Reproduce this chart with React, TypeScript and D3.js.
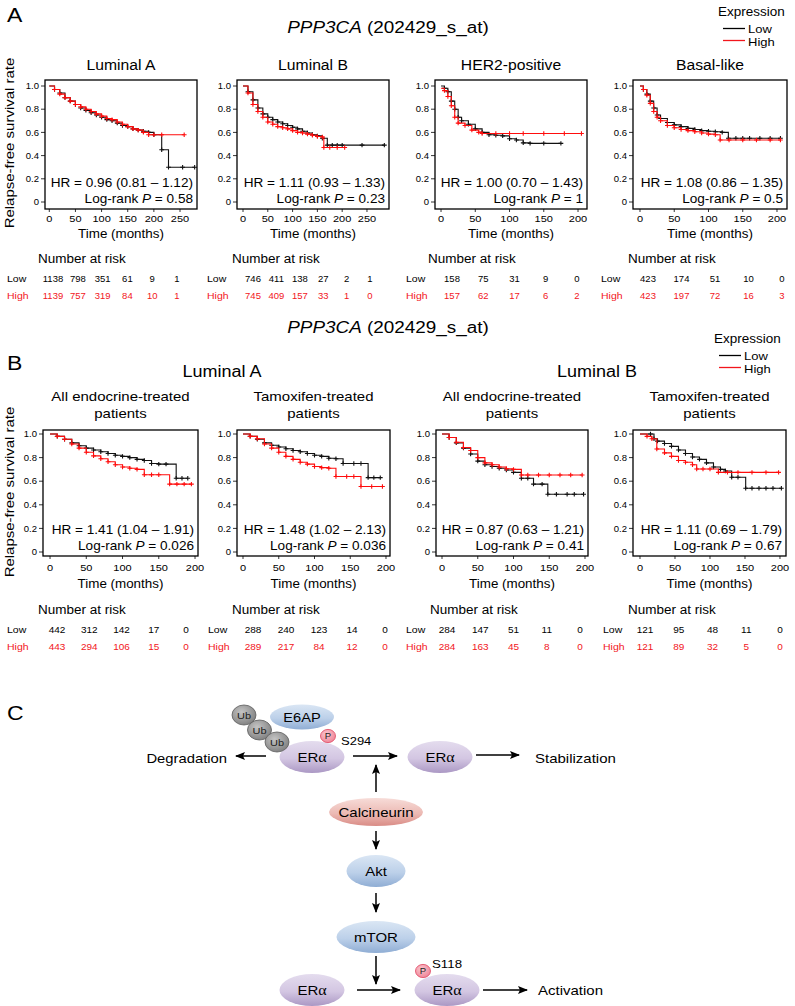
import React from 'react';
import * as d3 from 'd3';

type Pt = [number, number];

// ---------- panel A data ----------
const A_TITLES = ['Luminal A', 'Luminal B', 'HER2-positive', 'Basal-like'];
const A_HR = [0.96, 1.11, 1.0, 1.08];
const A_HR_LO = [0.81, 0.93, 0.7, 0.86];
const A_HR_HI = [1.12, 1.33, 1.43, 1.35];
const A_P = ['0.58', '0.23', '1', '0.5'];
const A_X_TICKS = [
  [0, 50, 100, 150, 200, 250],
  [0, 50, 100, 150, 200, 250],
  [0, 50, 100, 150, 200],
  [0, 50, 100, 150, 200],
];
const A_RISK_LOW = [
  [1138, 798, 351, 61, 9, 1],
  [746, 411, 138, 27, 2, 1],
  [158, 75, 31, 9, 0],
  [423, 174, 51, 10, 0],
];
const A_RISK_HIGH = [
  [1139, 757, 319, 84, 10, 1],
  [745, 409, 157, 33, 1, 0],
  [157, 62, 17, 6, 2],
  [423, 197, 72, 16, 3],
];

const A1_LOW: Pt[] = [[0, 1], [10, 0.97], [20, 0.94], [30, 0.9], [40, 0.87], [50, 0.84], [60, 0.81], [70, 0.79], [80, 0.77], [90, 0.75], [100, 0.73], [110, 0.71], [120, 0.7], [130, 0.68], [140, 0.66], [150, 0.65], [160, 0.63], [170, 0.62], [180, 0.61], [190, 0.6], [200, 0.58], [215, 0.45], [228, 0.3], [255, 0.3], [278, 0.3]];
const A1_HIGH: Pt[] = [[0, 1], [10, 0.97], [20, 0.93], [30, 0.9], [40, 0.87], [50, 0.84], [60, 0.82], [70, 0.8], [80, 0.78], [90, 0.76], [100, 0.74], [110, 0.72], [120, 0.71], [130, 0.69], [140, 0.67], [150, 0.65], [160, 0.63], [170, 0.62], [180, 0.6], [190, 0.58], [200, 0.58], [215, 0.58], [258, 0.58]];
const A2_LOW: Pt[] = [[0, 1], [10, 0.95], [20, 0.88], [30, 0.81], [40, 0.76], [50, 0.73], [60, 0.71], [70, 0.69], [80, 0.675], [90, 0.66], [100, 0.645], [110, 0.63], [120, 0.61], [130, 0.595], [140, 0.58], [150, 0.57], [160, 0.55], [170, 0.49], [180, 0.49], [190, 0.49], [200, 0.49], [240, 0.49], [285, 0.49]];
const A2_HIGH: Pt[] = [[0, 1], [10, 0.94], [20, 0.84], [30, 0.78], [40, 0.73], [50, 0.69], [60, 0.67], [70, 0.65], [80, 0.64], [90, 0.63], [100, 0.615], [110, 0.6], [120, 0.595], [130, 0.585], [140, 0.575], [150, 0.565], [160, 0.56], [163, 0.47], [175, 0.47], [190, 0.47], [205, 0.47]];
const A3_LOW: Pt[] = [[0, 1], [5, 0.98], [10, 0.95], [15, 0.87], [20, 0.8], [25, 0.73], [30, 0.7], [40, 0.67], [50, 0.63], [60, 0.6], [70, 0.58], [80, 0.575], [90, 0.57], [100, 0.545], [110, 0.535], [120, 0.51], [130, 0.505], [150, 0.505], [175, 0.505]];
const A3_HIGH: Pt[] = [[0, 0.98], [5, 0.96], [10, 0.91], [15, 0.83], [20, 0.73], [25, 0.68], [35, 0.66], [45, 0.62], [55, 0.6], [60, 0.59], [80, 0.59], [100, 0.59], [120, 0.59], [150, 0.59], [180, 0.59], [205, 0.59]];
const A4_LOW: Pt[] = [[0, 1], [5, 0.97], [10, 0.93], [15, 0.87], [20, 0.81], [25, 0.75], [30, 0.72], [40, 0.685], [50, 0.665], [60, 0.65], [70, 0.635], [80, 0.625], [90, 0.615], [100, 0.61], [110, 0.605], [120, 0.6], [129, 0.55], [140, 0.55], [150, 0.55], [160, 0.55], [175, 0.55], [190, 0.55], [205, 0.55]];
const A4_HIGH: Pt[] = [[0, 1], [5, 0.97], [10, 0.92], [15, 0.85], [20, 0.78], [25, 0.73], [30, 0.7], [40, 0.66], [50, 0.64], [60, 0.625], [70, 0.615], [80, 0.605], [90, 0.595], [100, 0.585], [110, 0.58], [117, 0.535], [130, 0.535], [150, 0.535], [170, 0.535], [190, 0.535], [205, 0.535]];

// ---------- panel B data ----------
const B_GROUPS = ['Luminal A', 'Luminal B'];
const B_SUBTITLES = [
  ['All endocrine-treated', 'patients'],
  ['Tamoxifen-treated', 'patients'],
  ['All endocrine-treated', 'patients'],
  ['Tamoxifen-treated', 'patients'],
];
const B_HR = [1.41, 1.48, 0.87, 1.11];
const B_HR_LO = [1.04, 1.02, 0.63, 0.69];
const B_HR_HI = [1.91, 2.13, 1.21, 1.79];
const B_P = ['0.026', '0.036', '0.41', '0.67'];
const B_X_TICKS = [0, 50, 100, 150, 200];
const B_RISK_LOW = [
  [442, 312, 142, 17, 0],
  [288, 240, 123, 14, 0],
  [284, 147, 51, 11, 0],
  [121, 95, 48, 11, 0],
];
const B_RISK_HIGH = [
  [443, 294, 106, 15, 0],
  [289, 217, 84, 12, 0],
  [284, 163, 45, 8, 0],
  [121, 89, 32, 5, 0],
];

const B1_LOW: Pt[] = [[0, 1], [10, 0.98], [20, 0.955], [30, 0.925], [40, 0.9], [50, 0.88], [60, 0.865], [70, 0.85], [80, 0.835], [90, 0.82], [100, 0.81], [110, 0.8], [120, 0.785], [130, 0.775], [140, 0.75], [150, 0.745], [160, 0.745], [174, 0.625], [182, 0.625], [190, 0.625]];
const B1_HIGH: Pt[] = [[0, 1], [10, 0.98], [20, 0.955], [30, 0.915], [40, 0.88], [50, 0.845], [60, 0.815], [70, 0.79], [80, 0.765], [90, 0.74], [100, 0.72], [110, 0.71], [120, 0.7], [130, 0.655], [140, 0.655], [150, 0.655], [165, 0.575], [175, 0.575], [185, 0.575], [195, 0.575]];
const B2_LOW: Pt[] = [[0, 1], [10, 0.98], [20, 0.955], [30, 0.925], [40, 0.905], [50, 0.89], [60, 0.875], [70, 0.86], [80, 0.85], [90, 0.835], [100, 0.82], [110, 0.81], [120, 0.795], [130, 0.79], [140, 0.75], [155, 0.75], [165, 0.75], [175, 0.63], [183, 0.63], [192, 0.63]];
const B2_HIGH: Pt[] = [[0, 1], [10, 0.98], [20, 0.96], [30, 0.915], [40, 0.88], [50, 0.845], [60, 0.81], [70, 0.785], [80, 0.76], [90, 0.745], [100, 0.725], [110, 0.715], [120, 0.71], [130, 0.64], [145, 0.64], [155, 0.64], [165, 0.555], [180, 0.555], [195, 0.555]];
const B3_LOW: Pt[] = [[0, 1], [10, 0.97], [20, 0.925], [30, 0.88], [40, 0.83], [50, 0.77], [60, 0.74], [70, 0.725], [80, 0.71], [90, 0.695], [100, 0.675], [111, 0.625], [120, 0.625], [128, 0.575], [140, 0.575], [148, 0.49], [160, 0.49], [175, 0.49], [185, 0.49], [198, 0.49]];
const B3_HIGH: Pt[] = [[0, 1], [10, 0.97], [20, 0.93], [30, 0.885], [40, 0.86], [50, 0.8], [60, 0.755], [70, 0.74], [80, 0.72], [90, 0.705], [100, 0.7], [111, 0.652], [120, 0.652], [135, 0.652], [150, 0.652], [165, 0.652], [180, 0.652], [196, 0.652]];
const B4_LOW: Pt[] = [[0, 1], [15, 1], [20, 0.96], [25, 0.94], [35, 0.92], [45, 0.895], [55, 0.865], [65, 0.835], [75, 0.805], [85, 0.785], [95, 0.755], [105, 0.72], [115, 0.7], [122, 0.686], [131, 0.633], [140, 0.633], [151, 0.54], [160, 0.54], [170, 0.54], [180, 0.54], [190, 0.54], [202, 0.54]];
const B4_HIGH: Pt[] = [[0, 1], [10, 0.98], [17, 0.96], [24, 0.873], [35, 0.84], [45, 0.81], [55, 0.775], [65, 0.76], [75, 0.74], [81, 0.703], [90, 0.703], [100, 0.703], [112, 0.675], [125, 0.675], [140, 0.675], [160, 0.675], [180, 0.675], [198, 0.675]];

const A_CURVES = [[A1_LOW, A1_HIGH], [A2_LOW, A2_HIGH], [A3_LOW, A3_HIGH], [A4_LOW, A4_HIGH]];
const B_CURVES = [[B1_LOW, B1_HIGH], [B2_LOW, B2_HIGH], [B3_LOW, B3_HIGH], [B4_LOW, B4_HIGH]];

const Y_TICKS = [0, 0.2, 0.4, 0.6, 0.8, 1.0];

// ---------- layout ----------
const A_BOX_X = [[45, 197], [237, 389], [435, 587], [633, 787]];
const A_X_DOM = [[-8.2, 282.5], [-12.1, 294.4], [-8.8, 213.1], [-10.2, 214.6]];
const A_BOX_Y = [80, 209];
const A_Y_MAP = [202, 86];
const A_RISK_COLS = [[53, 177], [253, 370], [452, 577], [648, 782]];
const A_RISK_LABEL_X = [7, 207, 406, 601];
const A_NAR_X = [38, 232, 428, 628];

const B_BOX_X = [[43, 198], [237, 390], [436, 588], [633, 786]];
const B_X_DOM = [[-9.7, 204.1], [-8.4, 205.6], [-8.4, 204.2], [-10, 208.6]];
const B_BOX_Y = [430, 556];
const B_Y_MAP = [552, 434];
const B_RISK_COLS = [[57, 186], [253, 385], [447, 580], [645, 780]];
const B_RISK_LABEL_X = [7, 208, 406, 603];
const B_NAR_X = [38, 232, 430, 628];

const FONT = '"Liberation Sans", Arial, Helvetica, sans-serif';
const SY = 0.89; // text in the figure is a little squashed vertically
const RED = '#f2161c';

function Txt({ x, y, size, anchor = 'start', fill = '#000', italic = false, children }: any) {
  return (
    <text
      transform={`translate(${x},${y}) scale(1,${SY})`}
      fontSize={size}
      textAnchor={anchor}
      fill={fill}
      fontFamily={FONT}
      fontStyle={italic ? 'italic' : 'normal'}
    >
      {children}
    </text>
  );
}

const fmt = (v: number) => v.toFixed(2);

function KMPlot({ bx, by, xDom, yMap, xTicks, curves, hr, lo, hi, p, tickDy, timeDy }: any) {
  const x = d3.scaleLinear().domain(xDom).range(bx);
  const y = d3.scaleLinear().domain([0, 1]).range(yMap);
  const line = d3.line<Pt>().x(d => x(d[0])).y(d => y(d[1])).curve(d3.curveStepAfter);
  // censor "+" marks
  const censor = (pts: Pt[]) =>
    pts.slice(1).map(d => `M${x(d[0]) - 2.4},${y(d[1])}h4.8M${x(d[0])},${y(d[1]) - 2.2}v4.4`).join('');
  const [x0, x1] = bx;
  const [y0, y1] = by;
  const cx = (x0 + x1) / 2;
  return (
    <g>
      {curves.map((c: Pt[], i: number) => (
        <g key={i} stroke={i === 0 ? '#111' : '#ff0d0d'} fill="none">
          <path d={line(c) || ''} strokeWidth={1.1} />
          <path d={censor(c)} strokeWidth={1.1} />
        </g>
      ))}
      <rect x={x0} y={y0} width={x1 - x0} height={y1 - y0} fill="none" stroke="#000" strokeWidth={1.3} />
      {Y_TICKS.map(t => (
        <g key={t}>
          <line x1={x0 - 4} x2={x0} y1={y(t)} y2={y(t)} stroke="#000" strokeWidth={0.8} />
          <Txt x={x0 - 6} y={y(t) + 3.2} size={9.5} anchor="end">{t === 0 ? '0' : t.toFixed(1)}</Txt>
        </g>
      ))}
      {xTicks.map((t: number) => (
        <g key={t}>
          <line x1={x(t)} x2={x(t)} y1={y1} y2={y1 + 3} stroke="#000" strokeWidth={0.8} />
          <Txt x={x(t)} y={y1 + tickDy} size={11} anchor="middle">{t}</Txt>
        </g>
      ))}
      <Txt x={cx} y={y1 + timeDy} size={13.4} anchor="middle">Time (months)</Txt>
      <Txt x={x1 - 4} y={y1 - 22} size={13.6} anchor="end">
        {`HR = ${fmt(hr)} (${fmt(lo)} \u2013 ${fmt(hi)})`}
      </Txt>
      <Txt x={x1 - 4} y={y1 - 6} size={13.6} anchor="end">
        <tspan>Log-rank </tspan>
        <tspan fontStyle="italic">P</tspan>
        <tspan>{` = ${p}`}</tspan>
      </Txt>
    </g>
  );
}

function RiskTable({ labelX, narX, cols, low, high, yTitle, size }: any) {
  const col = d3.scalePoint<number>().domain(d3.range(low.length)).range(cols);
  return (
    <g>
      <Txt x={narX} y={yTitle} size={13.5}>Number at risk</Txt>
      <Txt x={labelX} y={yTitle + 19} size={10.5}>Low</Txt>
      <Txt x={labelX} y={yTitle + 36} size={10.5} fill={RED}>High</Txt>
      {low.map((v: number, i: number) => (
        <Txt key={'l' + i} x={col(i)} y={yTitle + 19} size={size} anchor="middle">{v}</Txt>
      ))}
      {high.map((v: number, i: number) => (
        <Txt key={'h' + i} x={col(i)} y={yTitle + 36} size={size} anchor="middle" fill={RED}>{v}</Txt>
      ))}
    </g>
  );
}

function Legend({ x, y }: any) {
  return (
    <g>
      <Txt x={x} y={y} size={13.5}>Expression</Txt>
      <line x1={x + 5} x2={x + 27} y1={y + 12.5} y2={y + 12.5} stroke="#000" strokeWidth={1.3} />
      <line x1={x + 5} x2={x + 27} y1={y + 24.5} y2={y + 24.5} stroke={RED} strokeWidth={1.3} />
      <Txt x={x + 30} y={y + 17} size={13}>Low</Txt>
      <Txt x={x + 30} y={y + 30} size={13}>High</Txt>
    </g>
  );
}

function YLabel({ cy }: any) {
  return (
    <text
      transform={`translate(13.5,${cy}) rotate(-90) scale(1,0.85)`}
      fontSize={15}
      textAnchor="middle"
      fontFamily={FONT}
    >
      Relapse-free survival rate
    </text>
  );
}

function GeneTitle({ x, y }: any) {
  return (
    <Txt x={x} y={y} size={18.9} anchor="middle">
      <tspan fontStyle="italic">PPP3CA</tspan>
      <tspan> (202429_s_at)</tspan>
    </Txt>
  );
}

// ---------- panel C pieces ----------
function Blob({ cx, cy, rx, ry, grad, label, size = 15 }: any) {
  return (
    <g>
      <ellipse cx={cx} cy={cy} rx={rx} ry={ry} fill={`url(#${grad})`} />
      {label && (
        <Txt x={cx} y={cy + 4.8} size={size} anchor="middle">{label}</Txt>
      )}
    </g>
  );
}

function ER({ cx, cy }: any) {
  return (
    <g>
      <ellipse cx={cx} cy={cy} rx={32.5} ry={16} fill="url(#gPurple)" />
      <Txt x={cx} y={cy + 4.8} size={15} anchor="middle">
        <tspan>ER</tspan>
        <tspan fontFamily='"Liberation Serif", "DejaVu Serif", serif' fontSize={16}>α</tspan>
      </Txt>
    </g>
  );
}

function Ub({ cx, cy }: any) {
  return (
    <g>
      <ellipse cx={cx} cy={cy} rx={12} ry={10} fill="url(#gGray)" stroke="#5a5a5a" strokeWidth={0.8} />
      <Txt x={cx} y={cy + 3.6} size={11} anchor="middle" fill="#222">Ub</Txt>
    </g>
  );
}

function Phos({ cx, cy }: any) {
  return (
    <g>
      <ellipse cx={cx} cy={cy} rx={7.5} ry={6.6} fill="url(#gPink)" stroke="#e2536c" strokeWidth={0.9} />
      <Txt x={cx} y={cy + 3.4} size={9.5} anchor="middle" fill="#222">P</Txt>
    </g>
  );
}

function Arrow({ x1, y1, x2, y2 }: any) {
  return <line x1={x1} y1={y1} x2={x2} y2={y2} stroke="#000" strokeWidth={1.5} markerEnd="url(#head)" />;
}

export default function App() {
  return (
    <div style={{ position: 'absolute', left: 0, top: 0 }}>
      <svg width={795} height={1006} viewBox="0 0 795 1006" style={{ display: 'block', background: '#fff' }}>
        <defs>
          <marker id="head" viewBox="0 0 10 8" refX={9} refY={4} markerWidth={10} markerHeight={8} markerUnits="userSpaceOnUse" orient="auto">
            <path d="M0,0 L10,4 L0,8 L2,4 Z" fill="#000" />
          </marker>
          <linearGradient id="gPurple" x1="0" y1="0" x2="0" y2="1">
            <stop offset="0" stopColor="#e4dcee" />
            <stop offset="0.55" stopColor="#d3c6e2" />
            <stop offset="1" stopColor="#ab98c4" />
          </linearGradient>
          <linearGradient id="gBlue" x1="0" y1="0" x2="0" y2="1">
            <stop offset="0" stopColor="#dae6f4" />
            <stop offset="0.55" stopColor="#bcd0e9" />
            <stop offset="1" stopColor="#8fadd4" />
          </linearGradient>
          <linearGradient id="gRed" x1="0" y1="0" x2="0" y2="1">
            <stop offset="0" stopColor="#f7dcd8" />
            <stop offset="0.55" stopColor="#ecbab4" />
            <stop offset="1" stopColor="#d98c86" />
          </linearGradient>
          <radialGradient id="gGray" cx="0.4" cy="0.35" r="0.7">
            <stop offset="0" stopColor="#c4c4c4" />
            <stop offset="1" stopColor="#7e7e7e" />
          </radialGradient>
          <radialGradient id="gPink" cx="0.4" cy="0.35" r="0.7">
            <stop offset="0" stopColor="#fbc5ce" />
            <stop offset="1" stopColor="#ee8396" />
          </radialGradient>
        </defs>

        {/* ---------------- A ---------------- */}
        <Txt x={7} y={22} size={23}>A</Txt>
        <GeneTitle x={388} y={33} />
        <Legend x={718} y={16} />
        <YLabel cy={143} />
        {A_TITLES.map((t, i) => (
          <Txt key={t} x={(A_BOX_X[i][0] + A_BOX_X[i][1]) / 2} y={70} size={15.7} anchor="middle">{t}</Txt>
        ))}
        {A_CURVES.map((c, i) => (
          <KMPlot
            key={i}
            bx={A_BOX_X[i]}
            by={A_BOX_Y}
            xDom={A_X_DOM[i]}
            yMap={A_Y_MAP}
            xTicks={A_X_TICKS[i]}
            curves={c}
            hr={A_HR[i]}
            lo={A_HR_LO[i]}
            hi={A_HR_HI[i]}
            p={A_P[i]}
            tickDy={12.5}
            timeDy={29}
          />
        ))}
        {A_RISK_LOW.map((r, i) => (
          <RiskTable
            key={i}
            labelX={A_RISK_LABEL_X[i]}
            narX={A_NAR_X[i]}
            cols={A_RISK_COLS[i]}
            low={r}
            high={A_RISK_HIGH[i]}
            yTitle={263}
            size={9.5}
          />
        ))}

        {/* ---------------- B ---------------- */}
        <Txt x={7} y={370} size={23}>B</Txt>
        <GeneTitle x={388} y={333} />
        <Legend x={714} y={343} />
        <YLabel cy={492} />
        {B_GROUPS.map((g, k) => (
          <Txt key={g} x={k === 0 ? 222 : 597} y={377} size={18} anchor="middle">{g}</Txt>
        ))}
        {B_SUBTITLES.map((s, i) => (
          <g key={i}>
            <Txt x={(B_BOX_X[i][0] + B_BOX_X[i][1]) / 2} y={401} size={15} anchor="middle">{s[0]}</Txt>
            <Txt x={(B_BOX_X[i][0] + B_BOX_X[i][1]) / 2} y={418} size={15} anchor="middle">{s[1]}</Txt>
          </g>
        ))}
        {B_CURVES.map((c, i) => (
          <KMPlot
            key={i}
            bx={B_BOX_X[i]}
            by={B_BOX_Y}
            xDom={B_X_DOM[i]}
            yMap={B_Y_MAP}
            xTicks={B_X_TICKS}
            curves={c}
            hr={B_HR[i]}
            lo={B_HR_LO[i]}
            hi={B_HR_HI[i]}
            p={B_P[i]}
            tickDy={15}
            timeDy={32}
          />
        ))}
        {B_RISK_LOW.map((r, i) => (
          <RiskTable
            key={i}
            labelX={B_RISK_LABEL_X[i]}
            narX={B_NAR_X[i]}
            cols={B_RISK_COLS[i]}
            low={r}
            high={B_RISK_HIGH[i]}
            yTitle={614}
            size={10}
          />
        ))}

        {/* ---------------- C ---------------- */}
        <Txt x={7} y={720} size={23}>C</Txt>
        <Blob cx={302} cy={717} rx={32} ry={12.5} grad="gBlue" label="E6AP" size={14.6} />
        <ER cx={312} cy={757} />
        <Ub cx={244} cy={715} />
        <Ub cx={259.5} cy={730} />
        <Ub cx={277} cy={742} />
        <Phos cx={328} cy={736} />
        <Txt x={341} y={745} size={13}>S294</Txt>
        <Arrow x1={266} y1={756} x2={236} y2={756} />
        <Txt x={227} y={763} size={14.8} anchor="end">Degradation</Txt>
        <Arrow x1={353} y1={756} x2={397} y2={756} />
        <ER cx={440} cy={757} />
        <Arrow x1={476} y1={755} x2={519} y2={755} />
        <Txt x={535} y={763} size={15}>Stabilization</Txt>
        <Arrow x1={376} y1={792} x2={376} y2={765} />
        <Blob cx={376} cy={812} rx={47} ry={14} grad="gRed" label="Calcineurin" />
        <Arrow x1={376} y1={831} x2={376} y2={849} />
        <Blob cx={376} cy={871} rx={29.5} ry={16} grad="gBlue" label="Akt" />
        <Arrow x1={376} y1={893} x2={376} y2={912} />
        <Blob cx={376} cy={937} rx={39.5} ry={16} grad="gBlue" label="mTOR" />
        <Arrow x1={376} y1={956} x2={376} y2={984} />
        <ER cx={312} cy={990} />
        <Arrow x1={357} y1={990} x2={400} y2={990} />
        <ER cx={447} cy={990} />
        <Phos cx={423} cy={971} />
        <Txt x={432} y={968} size={13.3}>S118</Txt>
        <Arrow x1={483} y1={990} x2={527} y2={990} />
        <Txt x={538} y={995} size={15}>Activation</Txt>
      </svg>
    </div>
  );
}
